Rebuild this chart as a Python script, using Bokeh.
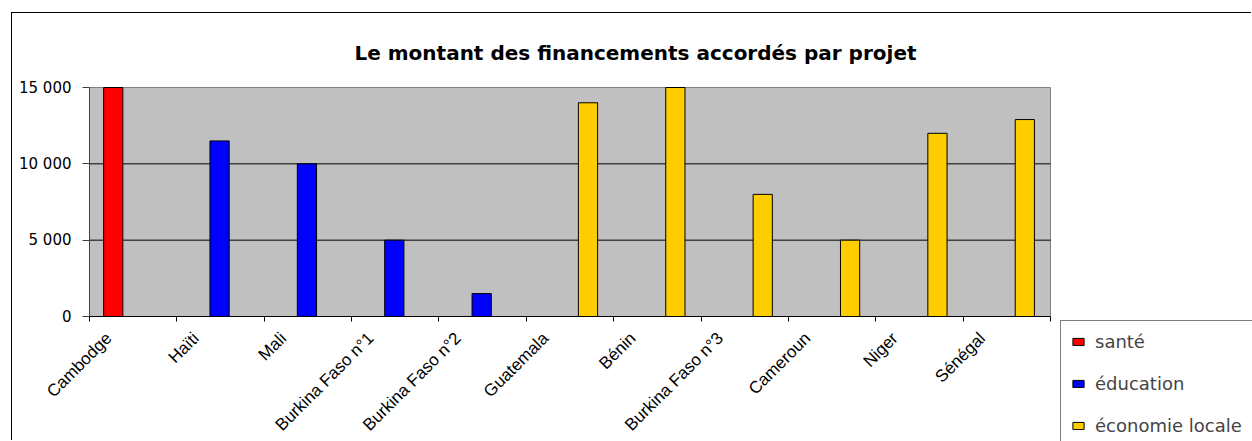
from math import pi
from bokeh.plotting import figure
from bokeh.models import (Range1d, FixedTicker, ColumnDataSource, Label, LinearAxis,
                          Legend, LegendItem, CustomJSTickFormatter)
from bokeh.embed import file_html
from bokeh.resources import INLINE

# ---- data ----
categories = ["Cambodge", "Haïti", "Mali", "Burkina Faso n°1", "Burkina Faso n°2",
              "Guatemala", "Bénin", "Burkina Faso n°3", "Cameroun", "Niger", "Sénégal"]
sante = [15000, 0, 0, 0, 0, 0, 0, 0, 0, 0, 0]
education = [0, 11500, 10000, 5000, 1500, 0, 0, 0, 0, 0, 0]
economie = [0, 0, 0, 0, 0, 14000, 15000, 8000, 5000, 12000, 12900]
series_names = ["santé", "éducation", "économie locale"]
series_colors = ["#FF0000", "#0000FF", "#FFCC00"]
y_ticks = [0, 5000, 10000, 15000]
y_tick_labels = ["0", "5 000", "10 000", "15 000"]
title_text = "Le montant des financements accordés par projet"

# ---- layout constants (pixels inside the canvas) ----
FONT = "DejaVu Sans"
FIG_W, FIG_H = 1240, 428
PLOT_L, PLOT_R = 77, 1038
PLOT_T, PLOT_B = 74, 303

n = len(categories)
ymin, ymax = y_ticks[0], y_ticks[-1]
centers = [i + 0.5 for i in range(n)]
label_shift = -0.28

ux = (PLOT_R - PLOT_L) / n
uy = (PLOT_B - PLOT_T) / (ymax - ymin)
x_range = Range1d(-PLOT_L / ux, n + (FIG_W - PLOT_R) / ux)
y_range = Range1d(ymin - (FIG_H - PLOT_B) / uy, ymax + PLOT_T / uy)

p = figure(width=FIG_W, height=FIG_H, x_range=x_range, y_range=y_range,
           x_axis_type=None, y_axis_type=None,
           output_backend="svg", toolbar_location=None, min_border=0,
           background_fill_color="white", border_fill_color="white",
           outline_line_color=None)
if p.title is not None:
    p.title.visible = False
p.margin = (12, 0, 0, 11)
p.styles = {"border-top": "1px solid #000000", "border-left": "1px solid #000000"}

# plot area (grey box with grey border)
p.quad(left=[0], right=[n], bottom=[ymin], top=[ymax],
       fill_color="#C0C0C0", line_color="#808080", line_width=1)

# horizontal gridlines
grid_vals = y_ticks[1:-1]
p.segment(x0=[0] * len(grid_vals), x1=[n] * len(grid_vals), y0=grid_vals, y1=grid_vals,
          line_color="#000000", line_width=1)

# bars
offsets = [-0.228, -0.011, 0.206]
items = []
for name, vals, color, off in zip(series_names, [sante, education, economie], series_colors, offsets):
    xs = [c + off for c, v in zip(centers, vals) if v > 0]
    vs = [v for v in vals if v > 0]
    src = ColumnDataSource(dict(x=xs, val=vs))
    r = p.vbar(x="x", top="val", width=0.22, source=src,
               fill_color=color, line_color="#000000", line_width=1)
    items.append(LegendItem(label=name, renderers=[r]))

# y axis at x = 0
yax = LinearAxis(fixed_location=0, bounds=(ymin, ymax), ticker=FixedTicker(ticks=y_ticks))
yax.major_label_overrides = dict(zip(y_ticks, y_tick_labels))
yax.major_tick_out = 7
yax.major_tick_in = 0
yax.minor_tick_line_color = None
yax.major_label_standoff = 11
yax.major_label_text_font = FONT
yax.major_label_text_font_size = "15px"
yax.major_label_text_color = "#000000"
yax.axis_line_color = "#404040"
yax.major_tick_line_color = "#404040"
p.add_layout(yax, "left")

# x axis at y = 0: boundary ticks (minor) and rotated category labels (major)
xax = LinearAxis(fixed_location=0, bounds=(0, n),
                 ticker=FixedTicker(ticks=[c + label_shift for c in centers],
                                    minor_ticks=list(range(n + 1))),
                 formatter=CustomJSTickFormatter(args=dict(labels=categories),
                                                 code="return labels[Math.floor(tick)]"))
xax.major_tick_out = 0
xax.major_tick_in = 0
xax.major_tick_line_color = None
xax.minor_tick_out = 5
xax.minor_tick_in = 0
xax.minor_tick_line_color = "#000000"
xax.axis_line_color = "#000000"
xax.major_label_orientation = pi / 4
xax.major_label_standoff = 14
xax.major_label_text_font = "Liberation Sans"
xax.major_label_text_font_size = "17px"
xax.major_label_text_color = "#000000"
p.add_layout(xax, "below")

# title
p.add_layout(Label(x=623, y=FIG_H - 39, x_units="screen", y_units="screen", text=title_text,
                   text_align="center", text_baseline="middle", text_font=FONT,
                   text_font_style="bold", text_font_size="20px", text_color="#000000"))

# legend, hanging off the lower right corner like the original
legend = Legend(items=items, location=(1048, -6), orientation="vertical",
                padding=10, spacing=21, label_height=20, glyph_width=14, glyph_height=9,
                label_standoff=10, label_width=200, label_text_font=FONT,
                label_text_font_size="18px",
                border_line_color="#000000", border_line_width=1,
                background_fill_color="white", background_fill_alpha=1)
p.add_layout(legend)

open("out.html", "w").write(file_html(p, INLINE))
